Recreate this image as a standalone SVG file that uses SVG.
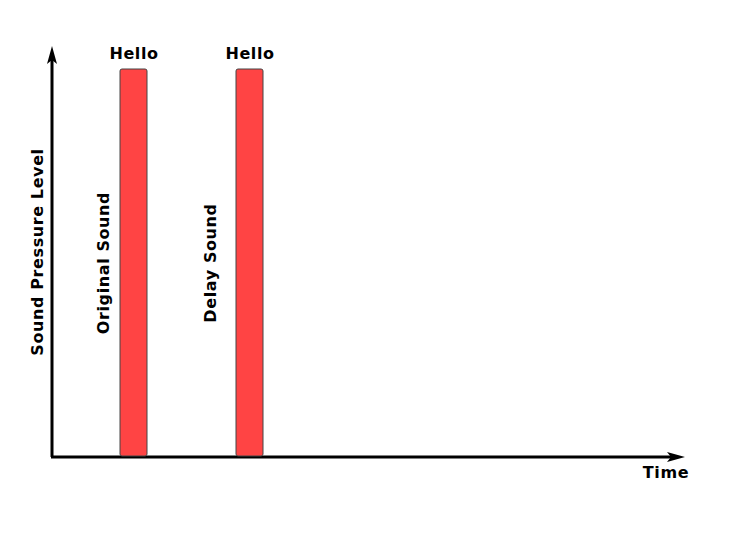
<svg xmlns="http://www.w3.org/2000/svg" width="750" height="552" viewBox="0 0 750 552">
<style>
text{font-family:"DejaVu Sans","Liberation Sans",Arial,sans-serif;font-weight:bold;font-size:16px;fill:#000;letter-spacing:0.6px}
.bar{fill:#ff4444;stroke:#444;stroke-width:1}
.ax{stroke:#000;stroke-width:3;fill:none}
</style>
<defs>
<marker id="ah" viewBox="0 0 18 10" refX="8" refY="5" markerWidth="18" markerHeight="10" markerUnits="userSpaceOnUse" orient="auto">
<path d="M0,0 L18,5 L0,10 L4,5 z" fill="#000"/>
</marker>
</defs>
<rect width="750" height="552" fill="#fff"/>
<g id="connectors">
<path class="ax" d="M52,457 L52,56" marker-end="url(#ah)"/>
<path class="ax" d="M51,457 L675,457" marker-end="url(#ah)"/>
</g>
<g id="axis-y-label"><text transform="translate(43,252) rotate(-90)" text-anchor="middle">Sound Pressure Level</text></g>
<g id="axis-x-label"><text x="666" y="478" text-anchor="middle">Time</text></g>
<g id="original"><rect class="bar" x="120" y="69" width="27" height="387" rx="2"/>
<text x="134" y="59" text-anchor="middle">Hello</text>
<text transform="translate(109,263) rotate(-90)" text-anchor="middle">Original Sound</text></g>
<g id="delay"><rect class="bar" x="236" y="69" width="27" height="387" rx="2"/>
<text x="250" y="59" text-anchor="middle">Hello</text>
<text transform="translate(216,263) rotate(-90)" text-anchor="middle">Delay Sound</text></g>
</svg>
